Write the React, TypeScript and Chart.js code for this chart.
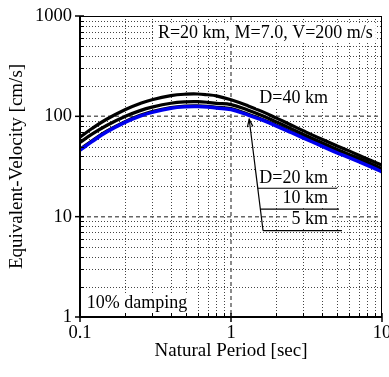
import React, { useEffect, useRef } from 'react';
import { Chart, registerables } from 'chart.js';

Chart.register(...registerables);

// ---- data ----
const periods = [0.1, 0.12, 0.15, 0.2, 0.25, 0.3, 0.4, 0.5, 0.6, 0.7, 0.8, 1.0, 1.3, 1.6, 2, 2.5, 3, 4, 5, 6, 8, 10];
const velD40 = [62, 75.6, 93.5, 117, 134, 146.5, 160.7, 166.2, 167, 164, 160, 146, 127, 112, 96, 82, 72, 59, 51, 45.5, 37.5, 32.5];
const velD20 = [55, 66.4, 81, 100, 114, 123.6, 135, 139.4, 140, 137.9, 134.6, 131, 115, 102, 88, 75.5, 66.5, 54.5, 47, 42, 35, 30];
const velD10 = [47, 57.2, 71.2, 89.3, 102.6, 111.9, 122.7, 127, 127.6, 126.4, 123.5, 119.5, 105.2, 94, 81.7, 70.5, 62.3, 51.6, 44.4, 39.8, 33.2, 28.6];
const velD5 = [46, 56, 69.7, 87.5, 100.5, 109.6, 120.2, 124.4, 125, 123.8, 121, 117, 103, 92, 80, 69, 61, 50.5, 43.5, 39, 32.5, 28];

const xTickValues = [0.1, 1, 10];
const xTickLabels = ['0.1', '1', '10'];
const yTickValues = [1, 10, 100, 1000];
const yTickLabels = ['1', '10', '100', '1000'];

const xTitle = 'Natural Period [sec]';
const yTitle = 'Equivalent-Velocity [cm/s]';
const infoText = 'R=20 km, M=7.0, V=200 m/s';
const dampingText = '10% damping';
const labelD40 = 'D=40 km';
const depthLabels = ['D=20 km', '10 km', '5 km'];

const FONT = "'Liberation Serif', 'Times New Roman', serif";

function decadeMinors(min: number, max: number): number[] {
  const out: number[] = [];
  for (let d = min; d < max; d *= 10) {
    for (let m = 2; m <= 9; m++) out.push(+(d * m).toPrecision(6));
  }
  return out;
}

const gridPlugin = {
  id: 'customGrid',
  beforeDatasetsDraw(chart: any) {
    const { ctx, chartArea: a, scales } = chart;
    const x = scales.x, y = scales.y;
    ctx.save();
    ctx.lineWidth = 1;
    ctx.strokeStyle = '#444';
    ctx.setLineDash([1, 2]);
    for (const v of decadeMinors(0.1, 10)) {
      const px = Math.round(x.getPixelForValue(v)) + 0.5;
      ctx.beginPath(); ctx.moveTo(px, a.top); ctx.lineTo(px, a.bottom); ctx.stroke();
    }
    for (const v of decadeMinors(1, 1000)) {
      const py = Math.round(y.getPixelForValue(v)) + 0.5;
      ctx.beginPath(); ctx.moveTo(a.left, py); ctx.lineTo(a.right, py); ctx.stroke();
    }
    ctx.setLineDash([4, 3]);
    ctx.strokeStyle = '#666';
    ctx.lineWidth = 1.5;
    for (const v of xTickValues) {
      if (v <= x.min || v >= x.max) continue;
      const px = x.getPixelForValue(v);
      ctx.beginPath(); ctx.moveTo(px, a.top); ctx.lineTo(px, a.bottom); ctx.stroke();
    }
    for (const v of yTickValues) {
      if (v <= y.min || v >= y.max) continue;
      const py = y.getPixelForValue(v);
      ctx.beginPath(); ctx.moveTo(a.left, py); ctx.lineTo(a.right, py); ctx.stroke();
    }
    ctx.restore();
  },
};

function textBox(ctx: any, text: string, px: number, py: number, align: 'left' | 'right' | 'center') {
  const w = ctx.measureText(text).width;
  let left = px;
  if (align === 'right') left = px - w;
  if (align === 'center') left = px - w / 2;
  ctx.fillStyle = '#fff';
  ctx.fillRect(left - 3, py - 10, w + 6, 20);
  ctx.fillStyle = '#000';
  ctx.textAlign = align;
  ctx.textBaseline = 'middle';
  ctx.fillText(text, px, py);
}

const annotationPlugin = {
  id: 'annotations',
  afterDatasetsDraw(chart: any) {
    const { ctx, chartArea: a, scales } = chart;
    const x = scales.x, y = scales.y;
    const X = (v: number) => x.getPixelForValue(v);
    const Y = (v: number) => y.getPixelForValue(v);
    ctx.save();
    ctx.font = `18px ${FONT}`;
    textBox(ctx, infoText, X(8.7), Y(680), 'right');
    textBox(ctx, labelD40, X(4.39), Y(152), 'right');
    textBox(ctx, dampingText, X(0.111), Y(1.36), 'left');
    const labelY = [24.3, 15.4, 9.5];
    depthLabels.forEach((t, i) => textBox(ctx, t, X(4.39), Y(labelY[i]), 'right'));

    ctx.strokeStyle = '#000';
    ctx.lineWidth = 1.2;
    ctx.setLineDash([]);
    const base = { x: X(1.63), y: Y(7.25) };
    const tip = { x: X(1.32), y: Y(93.5) };
    ctx.beginPath(); ctx.moveTo(base.x, base.y); ctx.lineTo(tip.x, tip.y); ctx.stroke();
    const lineYs = [19.2, 11.9, 7.25];
    const lineEnds = [5.04, 5.19, 5.43];
    lineYs.forEach((vy, i) => {
      const py = Y(vy);
      const t = (py - base.y) / (tip.y - base.y);
      const sx = base.x + (tip.x - base.x) * t;
      ctx.beginPath(); ctx.moveTo(sx, py); ctx.lineTo(X(lineEnds[i]), py); ctx.stroke();
    });
    const ang = Math.atan2(tip.y - base.y, tip.x - base.x);
    const L = 8, spread = 0.35;
    ctx.beginPath();
    ctx.moveTo(tip.x - L * Math.cos(ang - spread), tip.y - L * Math.sin(ang - spread));
    ctx.lineTo(tip.x, tip.y);
    ctx.lineTo(tip.x - L * Math.cos(ang + spread), tip.y - L * Math.sin(ang + spread));
    ctx.stroke();

    // frame
    ctx.strokeStyle = '#000';
    ctx.lineWidth = 1;
    ctx.beginPath();
    ctx.moveTo(a.left, a.top + 0.5); ctx.lineTo(a.right, a.top + 0.5);
    ctx.moveTo(a.right - 0.5, a.top); ctx.lineTo(a.right - 0.5, a.bottom);
    ctx.stroke();
    ctx.lineWidth = 2;
    ctx.beginPath();
    ctx.moveTo(a.left, a.top); ctx.lineTo(a.left, a.bottom); ctx.lineTo(a.right, a.bottom);
    ctx.stroke();
    // ticks
    ctx.lineWidth = 1;
    for (const v of decadeMinors(0.1, 10)) {
      const px = Math.round(X(v)) + 0.5;
      ctx.beginPath(); ctx.moveTo(px, a.bottom); ctx.lineTo(px, a.bottom - 4); ctx.stroke();
    }
    for (const v of decadeMinors(1, 1000)) {
      const py = Math.round(Y(v)) + 0.5;
      ctx.beginPath(); ctx.moveTo(a.left, py); ctx.lineTo(a.left + 4, py); ctx.stroke();
    }
    ctx.lineWidth = 1.5;
    for (const v of xTickValues) {
      const px = X(v);
      ctx.beginPath(); ctx.moveTo(px, a.bottom - 4); ctx.lineTo(px, a.bottom + 5); ctx.stroke();
    }
    for (const v of yTickValues) {
      const py = Y(v);
      ctx.beginPath(); ctx.moveTo(a.left - 5, py); ctx.lineTo(a.left + 4, py); ctx.stroke();
    }
    ctx.restore();
  },
};

export default function App() {
  const ref = useRef<HTMLCanvasElement | null>(null);
  useEffect(() => {
    if (!ref.current) return;
    const mk = (label: string, data: number[], color: string, width: number, order: number) => ({
      label,
      data: periods.map((p, i) => ({ x: p, y: data[i] })),
      borderColor: color,
      borderWidth: width,
      pointRadius: 0,
      fill: false,
      tension: 0.4,
      order,
    });
    const chart = new Chart(ref.current, {
      type: 'line',
      data: {
        datasets: [
          mk('D=40 km', velD40, '#000', 3.2, 1),
          mk('D=20 km', velD20, '#000', 3.2, 1),
          mk('D=10 km', velD10, '#000', 3, 2),
          mk('D=5 km', velD5, '#0000ee', 3.5, 0),
        ],
      },
      options: {
        responsive: false,
        animation: false,
        layout: { padding: { top: 16, right: 7, left: 0, bottom: 0 } },
        plugins: { legend: { display: false }, tooltip: { enabled: false } },
        scales: {
          x: {
            type: 'logarithmic',
            min: 0.1,
            max: 10,
            grid: { display: false, drawTicks: false },
            border: { display: false },
            afterBuildTicks: (s: any) => { s.ticks = xTickValues.map((v) => ({ value: v })); },
            afterFit: (s: any) => { s.height = 60; s.paddingLeft = 0; s.paddingRight = 0; },
            ticks: {
              callback: (v: any) => xTickLabels[xTickValues.indexOf(Number(v))] ?? '',
              color: '#000',
              padding: 5,
              maxRotation: 0,
              autoSkip: false,
              font: { family: FONT, size: 18.5 },
            },
            title: {
              display: true,
              text: xTitle,
              color: '#000',
              font: { family: FONT, size: 19 },
              padding: { top: 0, bottom: 15 },
            },
          },
          y: {
            type: 'logarithmic',
            min: 1,
            max: 1000,
            grid: { display: false, drawTicks: false },
            border: { display: false },
            afterBuildTicks: (s: any) => { s.ticks = yTickValues.map((v) => ({ value: v })); },
            afterFit: (s: any) => { s.width = 80; s.paddingTop = 0; s.paddingBottom = 0; },
            ticks: {
              callback: (v: any) => yTickLabels[yTickValues.indexOf(Number(v))] ?? '',
              color: '#000',
              padding: 8,
              autoSkip: false,
              font: { family: FONT, size: 18.5 },
            },
            title: {
              display: true,
              text: yTitle,
              color: '#000',
              font: { family: FONT, size: 19 },
              padding: { top: 6, bottom: 0 },
            },
          },
        },
      },
      plugins: [gridPlugin, annotationPlugin],
    });
    return () => chart.destroy();
  }, []);
  return (
    <div style={{ position: 'absolute', left: 0, top: 0, width: 389, height: 377, background: '#fff' }}>
      <canvas ref={ref} width={389} height={377} style={{ display: 'block' }} />
    </div>
  );
}
